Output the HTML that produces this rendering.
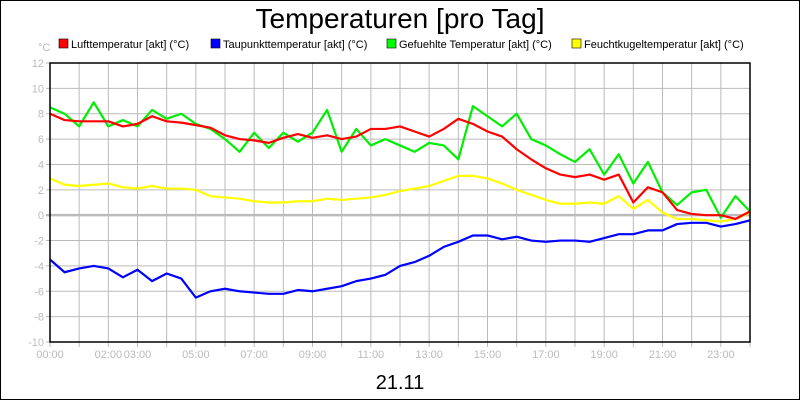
<!DOCTYPE html>
<html><head><meta charset="utf-8"><style>
body{margin:0;background:#fff;font-family:"Liberation Sans",sans-serif}
svg{display:block}
</style></head><body>
<svg id="chart" width="800" height="400" font-family="Liberation Sans, sans-serif">
<rect x="0.5" y="0.5" width="799" height="399" fill="#fff" stroke="#000"/>
<text x="400" y="28" text-anchor="middle" font-size="28">Temperaturen [pro Tag]</text>
<g font-size="11">
<g><rect x="59" y="39" width="9" height="9" fill="#f00" stroke="#000" stroke-width="0.6"/><text x="71" y="48">Lufttemperatur [akt] (°C)</text></g>
<g><rect x="211" y="39" width="9" height="9" fill="#00f" stroke="#000" stroke-width="0.6"/><text x="223" y="48">Taupunkttemperatur [akt] (°C)</text></g>
<g><rect x="387" y="39" width="9" height="9" fill="#0f0" stroke="#000" stroke-width="0.6"/><text x="399" y="48">Gefuehlte Temperatur [akt] (°C)</text></g>
<g><rect x="572" y="39" width="9" height="9" fill="#ff0" stroke="#000" stroke-width="0.6"/><text x="584" y="48">Feuchtkugeltemperatur [akt] (°C)</text></g>
</g>
<text x="38" y="51" font-size="11" fill="#bbb">°C</text>
<g id="grid"></g>
<g id="series"></g>
<rect x="50" y="63" width="700" height="279" fill="none" stroke="#000" stroke-width="1.5"/>
<text x="400" y="389" text-anchor="middle" font-size="20">21.11</text>
</svg>
<script>
const hours = [0,0.5,1,1.5,2,2.5,3,3.5,4,4.5,5,5.5,6,6.5,7,7.5,8,8.5,9,9.5,10,10.5,11,11.5,12,12.5,13,13.5,14,14.5,15,15.5,16,16.5,17,17.5,18,18.5,19,19.5,20,20.5,21,21.5,22,22.5,23,23.5,24];
const luft = [8.0,7.5,7.4,7.4,7.4,7.0,7.2,7.8,7.4,7.3,7.1,6.9,6.3,6.0,5.9,5.7,6.1,6.4,6.1,6.3,6.0,6.2,6.8,6.8,7.0,6.6,6.2,6.8,7.6,7.2,6.6,6.2,5.2,4.4,3.7,3.2,3.0,3.2,2.8,3.2,1.0,2.2,1.8,0.4,0.1,0.0,0.0,-0.3,0.3];
const gefuehlt = [8.5,8.0,7.0,8.9,7.0,7.5,7.0,8.3,7.6,8.0,7.2,6.8,6.0,5.0,6.5,5.3,6.5,5.8,6.5,8.3,5.0,6.8,5.5,6.0,5.5,5.0,5.7,5.5,4.4,8.6,7.8,7.0,8.0,6.0,5.5,4.8,4.2,5.2,3.2,4.8,2.5,4.2,1.8,0.8,1.8,2.0,-0.2,1.5,0.3];
const feucht = [2.9,2.4,2.3,2.4,2.5,2.2,2.1,2.3,2.1,2.1,2.0,1.5,1.4,1.3,1.1,1.0,1.0,1.1,1.1,1.3,1.2,1.3,1.4,1.6,1.9,2.1,2.3,2.7,3.1,3.1,2.9,2.5,2.0,1.6,1.2,0.9,0.9,1.0,0.9,1.5,0.5,1.2,0.2,-0.3,-0.3,-0.4,-0.5,-0.3,0.2];
const taupunkt = [-3.5,-4.5,-4.2,-4.0,-4.2,-4.9,-4.3,-5.2,-4.6,-5.0,-6.5,-6.0,-5.8,-6.0,-6.1,-6.2,-6.2,-5.9,-6.0,-5.8,-5.6,-5.2,-5.0,-4.7,-4.0,-3.7,-3.2,-2.5,-2.1,-1.6,-1.6,-1.9,-1.7,-2.0,-2.1,-2.0,-2.0,-2.1,-1.8,-1.5,-1.5,-1.2,-1.2,-0.7,-0.6,-0.6,-0.9,-0.7,-0.4];
const yTicks = [12,10,8,6,4,2,0,-2,-4,-6,-8,-10];
const xTickLabels = ["00:00","","02:00","03:00","","05:00","","07:00","","09:00","","11:00","","13:00","","15:00","","17:00","","19:00","","21:00","","23:00",""];

const X0=50,X1=750,Y0=342,Y1=63,YMIN=-10,YMAX=12;
const xs=h=>X0+(X1-X0)*h/24;
const ys=v=>Y0-(Y0-Y1)*(v-YMIN)/(YMAX-YMIN);
const NS="http://www.w3.org/2000/svg";
const grid=document.getElementById('grid'), ser=document.getElementById('series');
function mk(tag,attrs,parent){const e=document.createElementNS(NS,tag);for(const k in attrs)e.setAttribute(k,attrs[k]);parent.appendChild(e);return e;}
for(let i=0;i<=24;i++){
  const x=xs(i);
  const l=mk('line',{x1:x,x2:x,y1:Y1,y2:Y0+5,stroke:'#bbb','stroke-width':1},grid);
  
  
  if(xTickLabels[i]){const t=mk('text',{x:x,y:358,'text-anchor':'middle','font-size':11,fill:'#bbb'},grid);t.textContent=xTickLabels[i];
  
  }
}
yTicks.forEach(v=>{
  const y=ys(v);
  const l=mk('line',{x1:X0-4,x2:X1,y1:y,y2:y,stroke:'#bbb','stroke-width':v===0?2.5:1},grid);
  
  
  const t=mk('text',{x:44,y:y+4,'text-anchor':'end','font-size':11,fill:'#bbb'},grid);t.textContent=v;
  
  
});
function line(arr,color,name){
  const p=mk('polyline',{points:arr.map((v,i)=>xs(hours[i])+','+ys(v)).join(' '),fill:'none',stroke:color,'stroke-width':2.2,'stroke-linejoin':'round'},ser);
  
  
}
line(taupunkt,'#0000ff','taupunkt-line');
line(feucht,'#ffff00','feuchtkugel-line');
line(gefuehlt,'#00ee00','gefuehlt-line');
line(luft,'#ff0000','luft-line');
</script>
</body></html>
